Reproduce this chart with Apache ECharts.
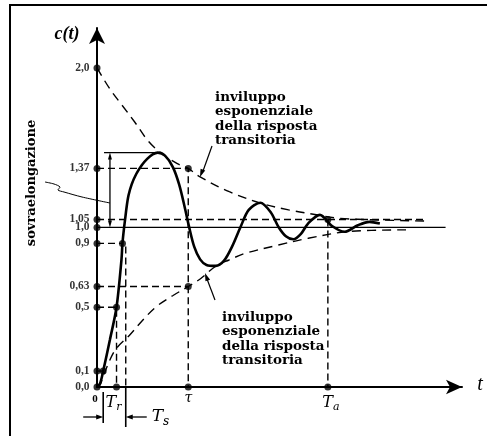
<!DOCTYPE html>
<html><head><meta charset="utf-8">
<script src="https://cdn.jsdelivr.net/npm/echarts@6.0.0/dist/echarts.min.js"></script>
<style>html,body{margin:0;padding:0;background:#fff}#c{width:487px;height:436px}</style>
</head><body><div id="c"></div>
<script>
// ---- data (time in units of tau, response c(t)) ----
const yTickValues = [2.0, 1.37, 1.05, 1.0, 0.9, 0.63, 0.5, 0.1, 0.0];
const yTickLabels = ['2,0', '1,37', '1,05', '1,0', '0,9', '0,63', '0,5', '0,1', '0,0'];

const responseT = [0, 0.033, 0.068, 0.141, 0.214, 0.268, 0.279, 0.297, 0.31, 0.325, 0.345, 0.38, 0.43, 0.49, 0.55, 0.61, 0.666, 0.745, 0.83, 0.9, 0.96, 1.011, 1.065, 1.13, 1.2, 1.301, 1.39, 1.48, 1.573, 1.663, 1.79, 1.902, 1.989, 2.07, 2.152, 2.235, 2.315, 2.442, 2.576, 2.714, 2.859, 2.986, 3.1];
const responseC = [0, 0.02, 0.1, 0.295, 0.5, 0.797, 0.9, 1.0, 1.06, 1.13, 1.2, 1.27, 1.335, 1.39, 1.43, 1.458, 1.469, 1.45, 1.38, 1.27, 1.13, 0.999, 0.88, 0.8, 0.765, 0.759, 0.79, 0.88, 1.003, 1.11, 1.155, 1.097, 1.003, 0.945, 0.926, 0.96, 1.026, 1.079, 1.009, 0.973, 1.014, 1.035, 1.025];

const upperT = [0, 0.141, 0.272, 0.413, 0.565, 0.717, 0.88, 1.0, 1.12, 1.45, 1.8, 2.1, 2.42, 2.64, 3.08, 3.6];
const upperC = [2.0, 1.868, 1.768, 1.661, 1.539, 1.46, 1.4, 1.37, 1.32, 1.224, 1.151, 1.11, 1.078, 1.058, 1.047, 1.04];

const lowerT = [0, 0.033, 0.068, 0.141, 0.214, 0.359, 0.503, 0.649, 0.829, 1.0, 1.138, 1.301, 1.446, 1.627, 1.989, 2.315, 2.75, 3.4];
const lowerC = [0, 0.0125, 0.065, 0.169, 0.243, 0.326, 0.42, 0.503, 0.572, 0.63, 0.68, 0.757, 0.796, 0.838, 0.89, 0.932, 0.974, 0.985];

const tau = 1.0, T10 = 0.068, Tr = 0.214, T90 = 0.279, Ts = 0.315, Ta = 2.53;
const peakT = 0.666, peakC = 1.469;
const level105End = 3.6, level1End = 3.82;
const timeMarks = [0, Tr, tau, Ta];
const timeLabels = ['0', '{T|T}{s|r}', '{g|τ}', '{T|T}{s|a}'];

// ---- chart ----
const SERIF = '"Liberation Serif", serif';
const DSERIF = '"DejaVu Serif", serif';
const chart = echarts.init(document.getElementById('c'), null, {renderer: 'canvas'});
const zip = (a, b) => a.map((v, i) => [v, b[i]]);
const dashStyle = {color: '#000', width: 1.4, type: [7, 4]};
const envStyle = {color: '#000', width: 1.4, type: [9, 6]};

function lineSeries(points, style, smooth) {
  return {type: 'line', data: points, symbol: 'none', lineStyle: style, smooth: smooth || false,
    silent: true, clip: false, z: 2};
}

const refDashed = [
  [[0, 1.37], [tau, 1.37], [tau, 0]],
  [[0, 0.63], [tau, 0.63]],
  [[0, 0.9], [T90, 0.9]],
  [[0, 0.5], [Tr, 0.5], [Tr, 0]],
  [[Ts, 0.88], [Ts, 0]],
  [[0, 1.05], [level105End, 1.05]],
  [[Ta, 1.05], [Ta, 0]],
  [[0, 0.1], [T10, 0.1]]
];

const series = [];
refDashed.forEach(p => series.push(lineSeries(p, dashStyle)));
series.push(lineSeries([[0, 1.0], [level1End, 1.0]], {color: '#000', width: 1.2}));
series.push(lineSeries(zip(upperT, upperC), envStyle, 0.35));
series.push(lineSeries(zip(lowerT, lowerC), envStyle, 0.35));
series.push(Object.assign(lineSeries(zip(responseT, responseC), {color: '#000', width: 2.6}, 0.3), {z: 3}));
series.push({
  type: 'scatter', clip: false, silent: true, z: 4, symbol: 'circle', symbolSize: 7,
  itemStyle: {color: '#000'},
  data: yTickValues.map((v, i) => ({value: [0, v], label: {formatter: yTickLabels[i]}})),
  label: {show: true, position: 'left', distance: 4, color: '#000',
    fontFamily: SERIF, fontWeight: 'bold', fontSize: 11.5}
});
series.push({
  type: 'scatter', clip: false, silent: true, z: 4, symbol: 'circle', symbolSize: 7,
  itemStyle: {color: '#000'},
  data: [[T10, 0.1], [Tr, 0.5], [T90, 0.9], [tau, 1.37], [tau, 0.63], [Ta, 1.05], [Tr, 0], [tau, 0], [Ta, 0]]
});

chart.setOption({
  animation: false,
  backgroundColor: '#fff',
  grid: {left: 97, right: 25, top: 28, bottom: 49},
  xAxis: {type: 'value', min: 0, max: 4,
    axisLine: {show: true, onZero: false, symbol: ['none', 'arrow'], symbolSize: [11, 16], lineStyle: {color: '#000', width: 2}},
    axisTick: {show: false}, axisLabel: {show: false}, splitLine: {show: false}},
  yAxis: {type: 'value', min: 0, max: 2.25,
    axisLine: {show: true, onZero: false, symbol: ['none', 'arrow'], symbolSize: [12, 16], lineStyle: {color: '#000', width: 2}},
    axisTick: {show: false}, axisLabel: {show: false}, splitLine: {show: false}},
  series: series
});

// ---- annotations ----
const P = (t, c) => chart.convertToPixel({xAxisIndex: 0, yAxisIndex: 0}, [t, c]);
function head(tip, from, len, wid) {
  const dx = tip[0] - from[0], dy = tip[1] - from[1];
  const L = Math.hypot(dx, dy), ux = dx / L, uy = dy / L;
  const bx = tip[0] - ux * len, by = tip[1] - uy * len, w = wid / 2;
  return {type: 'polygon', silent: true, z: 10,
    shape: {points: [tip, [bx - uy * w, by + ux * w], [bx + uy * w, by - ux * w]]}, style: {fill: '#000'}};
}
function seg(a, b, w) {
  return {type: 'line', silent: true, z: 10, shape: {x1: a[0], y1: a[1], x2: b[0], y2: b[1]},
    style: {stroke: '#000', lineWidth: w || 1.3}};
}
const G = [];
G.push({type: 'polyline', silent: true, shape: {points: [[10, 460], [10, 5], [500, 5]]},
  style: {fill: null, stroke: '#000', lineWidth: 2}});

// c(t) and t labels
G.push({type: 'text', silent: true, x: 67, y: 34, style: {text: 'c(t)', font: 'italic bold 18px ' + SERIF,
  fill: '#000', align: 'center', verticalAlign: 'middle'}});
const o = P(0, 0);
const xEnd = P(4, 0);
G.push({type: 'text', silent: true, x: xEnd[0] + 18, y: o[1] - 2, style: {text: 't', font: 'italic 20px ' + SERIF,
  fill: '#000', align: 'center', verticalAlign: 'middle'}});

// time labels
const rich = {
  T: {fontFamily: DSERIF, fontStyle: 'italic', fontSize: 16, fill: '#000'},
  s: {fontFamily: DSERIF, fontStyle: 'italic', fontSize: 11, fill: '#000', padding: [9, 0, 0, 0]},
  g: {fontFamily: DSERIF, fontStyle: 'italic', fontSize: 14, fill: '#000'}
};
const labelShift = [[-2, 12], [-3, 16], [0, 11], [3, 16]];
timeMarks.forEach((t, i) => {
  const p = P(t, 0);
  G.push({type: 'text', silent: true, x: p[0] + labelShift[i][0], y: p[1] + labelShift[i][1],
    style: {text: timeLabels[i], rich: rich, font: 'bold 11px ' + SERIF, fill: '#000', align: 'center', verticalAlign: 'middle'}});
});

// T_r / T_s brackets below axis
const pL = P(T10, 0), pR = P(Ts, 0);
G.push(seg([pL[0], o[1] + 5], [pL[0], o[1] + 36], 1.6));
G.push(seg([pR[0], o[1]], [pR[0], o[1] + 40], 1.6));
const ay = o[1] + 30;
G.push(seg([pL[0] - 20, ay], [pL[0] - 5, ay], 1.3));
G.push(head([pL[0], ay], [pL[0] - 20, ay], 7, 5));
G.push(seg([pR[0] + 21, ay], [pR[0] + 5, ay], 1.3));
G.push(head([pR[0], ay], [pR[0] + 21, ay], 7, 5));
G.push({type: 'text', silent: true, x: pR[0] + 26, y: ay, style: {text: '{T|T}{s|s}', rich: {
  T: {fontFamily: DSERIF, fontStyle: 'italic', fontSize: 17, fill: '#000'},
  s: {fontFamily: DSERIF, fontStyle: 'italic', fontSize: 12, fill: '#000', padding: [10, 0, 0, 0]}},
  align: 'left', verticalAlign: 'middle'}});

// overshoot bracket
const b0 = P(0.077, peakC), b1 = P(peakT, peakC), v0 = P(0.142, peakC), v1 = P(0.142, 1.0);
G.push(seg(b0, b1, 1.3));
G.push(seg([v0[0], v0[1] + 6], [v1[0], v1[1] - 6], 1.3));
G.push(head(v0, [v0[0], v0[1] + 10], 7, 4));
G.push(head(v1, [v1[0], v1[1] - 10], 7, 4));

// sovraelongazione
G.push({type: 'text', silent: true, x: 32, y: 183, rotation: Math.PI / 2,
  style: {text: 'sovraelongazione', font: 'bold 13px ' + DSERIF, fill: '#000', align: 'center', verticalAlign: 'middle'}});
G.push({type: 'polyline', silent: true, shape: {points: [[45, 182], [54, 184], [60, 187], [58, 190], [64, 192], [82, 197], [v0[0], 203]], smooth: 0.3},
  style: {stroke: '#000', lineWidth: 1, fill: null}});

// envelope notes
const note = 'inviluppo\nesponenziale\ndella risposta\ntransitoria';
G.push({type: 'text', silent: true, x: 215, y: 90, style: {text: note, font: 'bold 13.5px ' + DSERIF,
  lineHeight: 14.5, fill: '#000', align: 'left', verticalAlign: 'top'}});
G.push({type: 'text', silent: true, x: 222, y: 310, style: {text: note, font: 'bold 13.5px ' + DSERIF,
  lineHeight: 14.5, fill: '#000', align: 'left', verticalAlign: 'top'}});
G.push(seg([212, 146], [203, 171], 1.2));
G.push(head([200, 177], [212, 146], 8, 5));
G.push(seg([215, 300], [207, 279], 1.2));
G.push(head([205, 273], [215, 300], 8, 5));

chart.setOption({graphic: {elements: G}});
</script>
</body></html>
